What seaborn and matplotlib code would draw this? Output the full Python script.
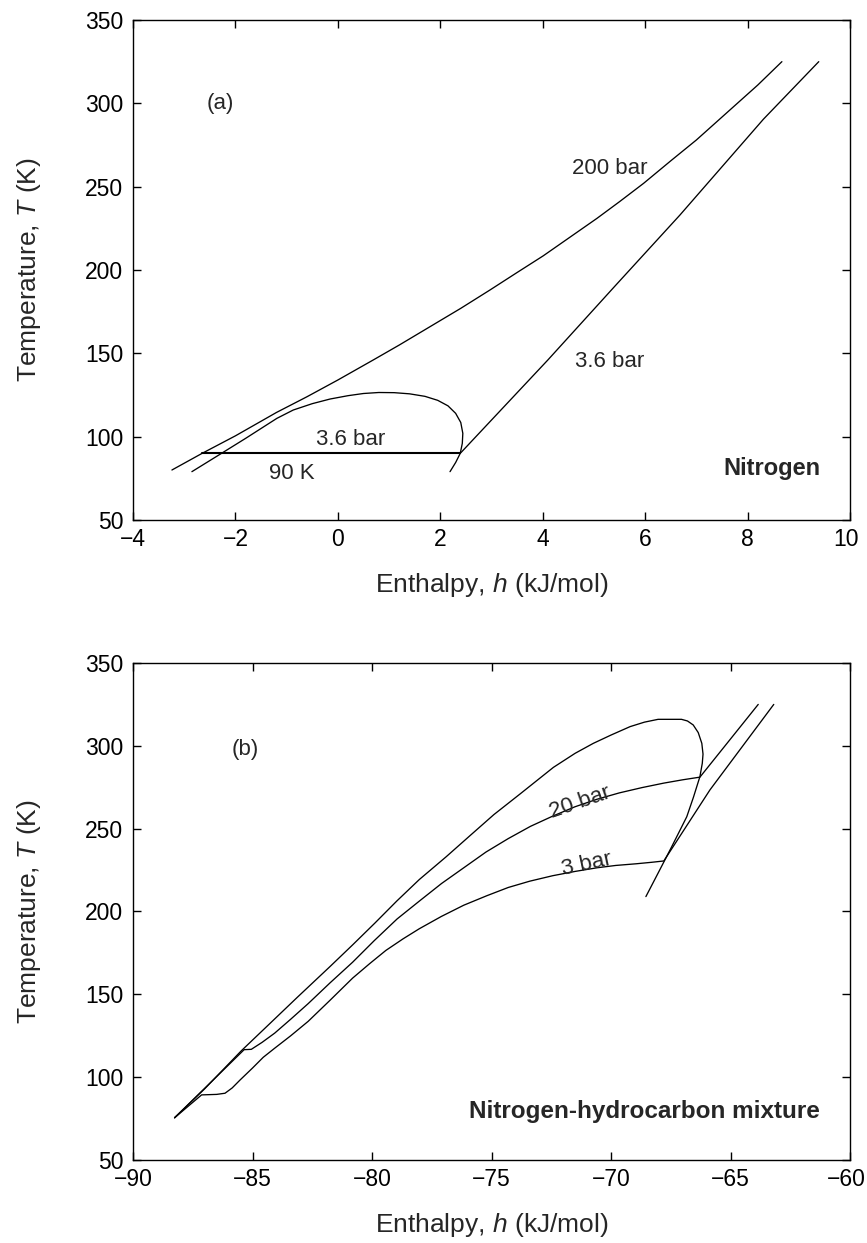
import pandas as pd
import numpy as np
import matplotlib
matplotlib.use("Agg")
import matplotlib.pyplot as plt
import matplotlib.transforms as mtransforms
import seaborn as sns

# (a) nitrogen, values
a_200_h = [-3.24, -2.65, -2.0, -1.2, -0.6, 0.0, 0.69, 1.2, 1.8, 2.4, 2.97, 3.5, 4.01,
           4.5, 5.06, 5.5, 5.97, 6.5, 7.0, 7.4, 7.8, 8.2, 8.67]
a_200_T = [80, 90, 100.5, 114.5, 124, 134, 146, 155, 166, 177, 188, 198.5, 208.5,
           219, 231, 241, 252, 265.5, 278, 289, 300, 311, 325]

a_sat_h = [-2.85, -2.35, -1.8, -1.19, -0.87, -0.5, -0.15, 0.2, 0.5, 0.8, 1.1, 1.4, 1.7,
           1.95, 2.15, 2.3, 2.4, 2.44, 2.43, 2.39, 2.3, 2.19]
a_sat_T = [79, 88.5, 99, 111, 116, 119.8, 122.6, 124.6, 125.9, 126.5, 126.4, 125.7, 124.2,
           121.8, 118.5, 114, 108.5, 102, 96, 90, 84.5, 79]

a_vap_h = [2.39, 4.1, 5.4, 6.68, 8.31, 9.39]
a_vap_T = [90, 146, 190, 233, 290.5, 325]

a_iso_h = [-2.66, 2.39]
a_iso_T = [90, 90]

# (b) nitrogen-hydrocarbon mixture
b_env_h = [-88.26, -87.0, -85.47, -84.3, -83.14, -81.74, -80.8, -79.88, -78.95, -78.02,
           -76.9, -75.93, -74.9, -73.8, -72.41, -71.5, -70.74, -70.0, -69.2, -68.6,
           -68.03, -67.05, -66.8, -66.56, -66.35, -66.2, -66.15, -66.18, -66.28, -66.55,
           -66.83, -67.15, -67.46, -68.0, -68.54]
b_env_T = [75.5, 93, 115.9, 132, 148, 167, 180, 193, 206.5, 219.3,
           233, 245.4, 258.5, 271, 287, 295.5, 301.5, 306.5, 311.6, 314.3,
           316, 316, 315, 312.6, 308, 301.5, 295, 289.5, 281.4, 269,
           257.2, 248, 239.1, 224, 209]

b_20_h = [-88.26, -85.35, -85.05, -84.6, -84.07, -83.4, -82.67, -81.75, -80.81, -79.9,
          -78.95, -78.0, -77.09, -76.15, -75.23, -74.3, -73.37, -72.45, -71.51, -70.6,
          -69.65, -68.7, -67.79, -67.0, -66.28, -63.84]
b_20_T = [75.5, 116.6, 116.8, 121, 126.6, 135, 144.4, 157, 169.4, 182.5,
          195.5, 206.5, 216.9, 226.5, 235.9, 244, 251.4, 257.5, 263.2, 267.7,
          271.6, 274.8, 277.5, 279.5, 281.1, 325]

b_3_h = [-88.26, -87.13, -86.5, -86.15, -85.85, -85.52, -85.0, -84.55, -84.07, -83.4,
         -82.67, -81.75, -80.81, -80.1, -79.42, -78.7, -78.02, -77.1, -76.16, -75.2,
         -74.3, -73.4, -72.44, -71.5, -70.58, -69.8, -68.95, -68.3, -67.79, -65.86, -63.19]
b_3_T = [75.5, 89.3, 89.6, 90.3, 93.5, 98.3, 105.5, 112, 117.5, 125,
         133.7, 146.5, 159.8, 168.5, 176.5, 183.5, 189.6, 197, 203.8, 209.5,
         214.5, 218.3, 221.6, 224.2, 226.4, 227.8, 228.8, 229.7, 230.5, 273.4, 325]

sns.set_style("ticks")
plt.rcParams['font.family'] = ['Liberation Sans', 'DejaVu Sans']
plt.rcParams['mathtext.fontset'] = 'custom'
plt.rcParams['mathtext.it'] = 'Liberation Sans:italic'
plt.rcParams['mathtext.rm'] = 'Liberation Sans'
plt.rcParams['axes.unicode_minus'] = True

fig = plt.figure(figsize=(8.67, 12.43), dpi=100)
ax_a = fig.add_axes([133/867, 1 - 520/1243, 717/867, 500/1243])
ax_b = fig.add_axes([133/867, 1 - 1160/1243, 717/867, 497/1243])


def curve(ax, h, T, lw=0.95):
    df = pd.DataFrame({'h': h, 'T': T})
    sns.lineplot(data=df, x='h', y='T', sort=False, estimator=None,
                 color='black', linewidth=lw, ax=ax)


curve(ax_a, a_200_h, a_200_T)
curve(ax_a, a_sat_h, a_sat_T)
curve(ax_a, a_vap_h, a_vap_T)
curve(ax_a, a_iso_h, a_iso_T, lw=1.5)

curve(ax_b, b_env_h, b_env_T)
curve(ax_b, b_20_h, b_20_T)
curve(ax_b, b_3_h, b_3_T)

for ax, xlim, xstep in [(ax_a, (-4, 10), 2), (ax_b, (-90, -60), 5)]:
    ax.set_xlim(*xlim)
    ax.set_ylim(50, 350)
    ax.set_xticks(np.arange(xlim[0], xlim[1] + 0.1, xstep))
    ax.set_yticks(np.arange(50, 351, 50))
    ax.tick_params(direction='in', top=True, right=True, length=6, width=1,
                   labelsize=16.5, colors='black')
    ax.tick_params(axis='x', pad=6)
    ax.tick_params(axis='y', pad=7)
    for s in ax.spines.values():
        s.set_linewidth(1.0)
        s.set_color('black')
    ax.set_xlabel('Enthalpy, $h$ (kJ/mol)', fontsize=19, labelpad=14)
    ax.set_ylabel('Temperature, $T$ (K)', fontsize=19, labelpad=30)
    # keep the last x tick label inside the figure
    last = ax.xaxis.get_major_ticks()[-1].label1
    last.set_transform(last.get_transform() +
                       mtransforms.ScaledTranslation(-4/100, 0, fig.dpi_scale_trans))

fs = 16
ax_a.text(-2.3, 300, '(a)', fontsize=fs, ha='center', va='center')
ax_a.text(5.3, 261, '200 bar', fontsize=fs, ha='center', va='center')
ax_a.text(5.3, 145, '3.6 bar', fontsize=fs, ha='center', va='center')
ax_a.text(0.25, 98.5, '3.6 bar', fontsize=fs, ha='center', va='center')
ax_a.text(-0.9, 78, '90 K', fontsize=fs, ha='center', va='center')
ax_a.text(9.43, 81, 'Nitrogen', fontsize=17, ha='right', va='center', fontweight='bold')

ax_b.text(-85.3, 298, '(b)', fontsize=fs, ha='center', va='center')
ax_b.text(-71.3, 266, '20 bar', fontsize=fs, ha='center', va='center',
          rotation=19, rotation_mode='anchor')
ax_b.text(-71.0, 228.5, '3 bar', fontsize=fs, ha='center', va='center',
          rotation=12, rotation_mode='anchor')
ax_b.text(-61.25, 79, 'Nitrogen-hydrocarbon mixture', fontsize=17.5, ha='right',
          va='center', fontweight='bold')

fig.savefig('out.png', dpi=100)
